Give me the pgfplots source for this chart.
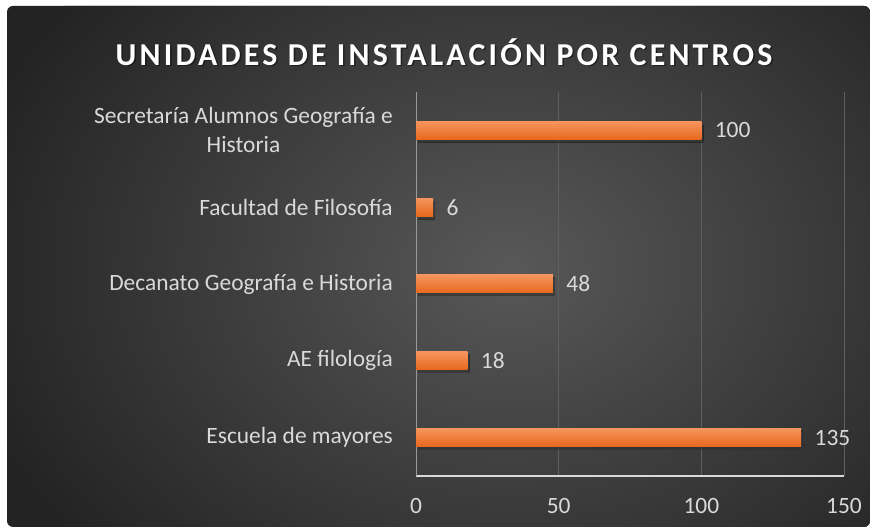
\documentclass[border=0pt]{standalone}
\usepackage{fontspec}
\setmainfont{Carlito}
\usepackage{pgfplots}
\pgfplotsset{compat=1.18}
\usetikzlibrary{shadows}
\definecolor{txt}{HTML}{D9D9D9}
\definecolor{gridc}{HTML}{5F5F5F}
\definecolor{barTop}{HTML}{F5955E}
\definecolor{barBot}{HTML}{E8681C}
\definecolor{bgin}{HTML}{585858}
\definecolor{bgout}{HTML}{232323}
\begin{document}
\begin{tikzpicture}
\begin{scope}[x=1bp,y=1bp]
\useasboundingbox (0,0) rectangle (870,527);
\fill[white] (0,0) rectangle (870,527);
\begin{scope}
\clip[rounded corners=6bp] (7,0) -- (7,521) -- (870,521) -- (870,0) -- cycle;
\fill[bgout] (0,0) rectangle (870,527);
\shade[inner color=bgin, outer color=bgout] (510,260) ellipse (560 and 430);
\end{scope}
\node[text=black, opacity=0.45, font=\fontsize{32}{38}\selectfont\bfseries\addfontfeatures{LetterSpace=10}] at (445.5,473.5) {UNIDADES DE INSTALACIÓN POR CENTROS};
\node[text=white, font=\fontsize{32}{38}\selectfont\bfseries\addfontfeatures{LetterSpace=10}] at (444,475) {UNIDADES DE INSTALACIÓN POR CENTROS};
\end{scope}
\begin{axis}[
  at={(416bp,51bp)}, anchor=south west,
  scale only axis, width=428bp, height=384bp,
  xbar, bar width=18bp,
  xmin=0, xmax=150, ymin=-0.5, ymax=4.5,
  xtick={0,50,100,150},
  ytick={0,1,2,3,4},
  yticklabels={Escuela de mayores, AE filología, Decanato Geografía e Historia, Facultad de Filosofía, {Secretaría Alumnos Geografía e\\Historia}},
  axis lines*=left,
  x axis line style={-, color=txt, line width=1.2bp},
  y axis line style={-, color=gray!80, line width=1bp},
  major tick length=0pt,
  xmajorgrids, grid style={gridc, line width=1bp},
  /pgf/number format/assume math mode=true,
  xticklabel style={font=\fontsize{23.5}{29}\selectfont, text=txt, inner sep=0pt, yshift=-22bp},
  yticklabel style={font=\fontsize{23.5}{29}\selectfont, text=txt, align=center, inner sep=0pt, xshift=-23bp},
  nodes near coords,
  nodes near coords style={font=\fontsize{23.5}{29}\selectfont, text=txt, anchor=west, xshift=10bp},
  obar/.style={draw=none, top color=barTop, bottom color=barBot, bar shift=0pt,
    drop shadow={shadow xshift=2bp, shadow yshift=-3bp, opacity=0.4, top color=black, bottom color=black}},
]
\addplot[obar] coordinates {(135,0)};
\addplot[obar] coordinates {(18,1)};
\addplot[obar] coordinates {(48,2)};
\addplot[obar] coordinates {(6,3)};
\addplot[obar] coordinates {(100,4)};
\end{axis}
\end{tikzpicture}
\end{document}
